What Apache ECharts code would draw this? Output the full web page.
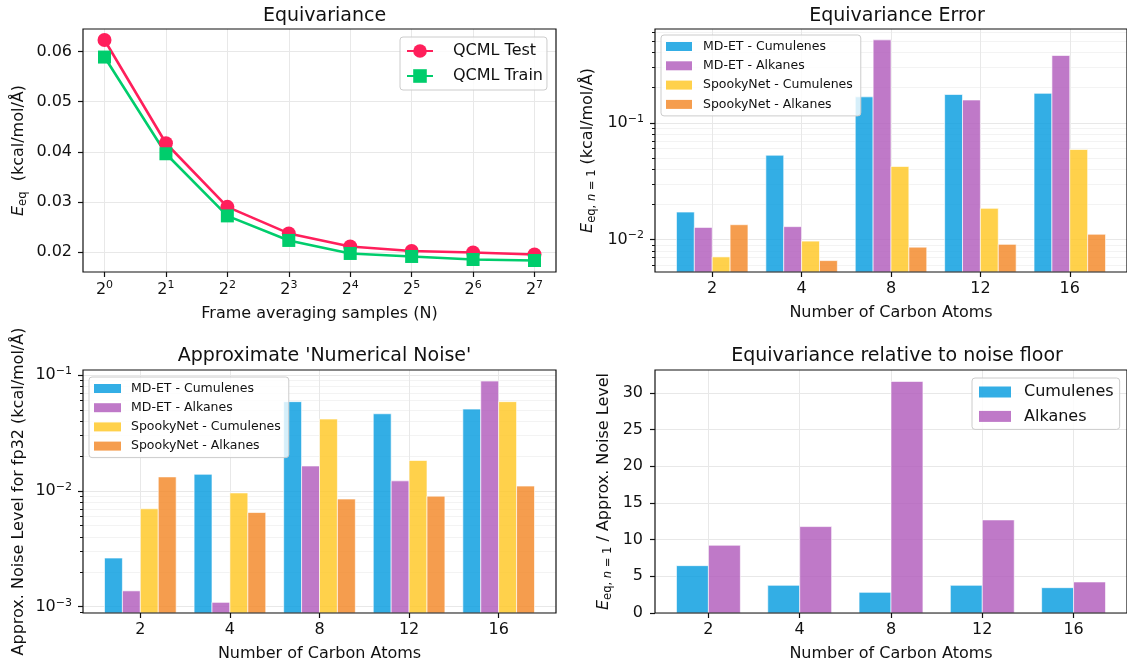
<!DOCTYPE html>
<html><head><meta charset="utf-8">
<script src="https://cdn.jsdelivr.net/npm/echarts@6/dist/echarts.min.js"></script>
<style>html,body{margin:0;padding:0;background:#fff}#c{width:1127px;height:664px}</style>
</head><body><div id="c"></div>
<script>
// ---------- data ----------
const sampleExp = [0, 1, 2, 3, 4, 5, 6, 7];            // N = 2^exp
const eqTest  = [0.0623, 0.0417, 0.0290, 0.0237, 0.0211, 0.0202, 0.0199, 0.0195];
const eqTrain = [0.0589, 0.0396, 0.0272, 0.0223, 0.0197, 0.0191, 0.0185, 0.0183];
const eqTicks = [0.02, 0.03, 0.04, 0.05, 0.06];

const carbonAtoms = ['2', '4', '8', '12', '16'];
const errMdetCum    = [0.0172, 0.0528, 0.167, 0.175, 0.179];
const errMdetAlk    = [0.0127, 0.0129, 0.514, 0.157, 0.378];
const errSpookyCum  = [0.0071, 0.0097, 0.0423, 0.0185, 0.0591];
const errSpookyAlk  = [0.0134, 0.0066, 0.0086, 0.0091, 0.0111];
const errTicks = [0.01, 0.1];

const noiseMdetCum   = [0.00263, 0.0139, 0.0589, 0.0463, 0.0508];
const noiseMdetAlk   = [0.00137, 0.00109, 0.0164, 0.0122, 0.0887];
const noiseSpookyCum = [0.0070, 0.0096, 0.0417, 0.0183, 0.0589];
const noiseSpookyAlk = [0.0132, 0.0065, 0.0085, 0.0090, 0.0110];
const noiseTicks = [0.001, 0.01, 0.1];

const ratioCum = [6.45, 3.77, 2.82, 3.77, 3.45];
const ratioAlk = [9.23, 11.77, 31.55, 12.68, 4.23];
const ratioTicks = [0, 5, 10, 15, 20, 25, 30];

// ---------- styling helpers ----------
const FONT = 'DejaVu Sans';
const TXT = '#111';
const COL = { red: '#FF1F5B', green: '#00CD6C', blue: '#009ADE', purple: '#AF58BA', yellow: '#FFC61E', orange: '#F28522' };
function rgba(hex, a) {
  const n = parseInt(hex.slice(1), 16);
  return 'rgba(' + (n >> 16) + ',' + ((n >> 8) & 255) + ',' + (n & 255) + ',' + a + ')';
}
const catIdx = carbonAtoms.map((_, i) => i);
function minorTicks(decades, lo, hi) {
  const out = [];
  decades.forEach(d => { for (let k = 2; k <= 9; k++) { const v = k * d; if (v >= lo && v <= hi) out.push(v); } });
  return out;
}
const supRich = {
  b: { fontFamily: FONT, fontSize: 16, color: TXT },
  s: { fontFamily: FONT, fontSize: 11, color: TXT, verticalAlign: 'top', padding: [0, 0, 8, 0] }
};
const nameRich = {
  i: { fontFamily: FONT, fontSize: 16, fontStyle: 'italic', color: TXT },
  t: { fontFamily: FONT, fontSize: 16, color: TXT },
  s: { fontFamily: FONT, fontSize: 11.5, color: TXT, verticalAlign: 'bottom', padding: [9, 0, 0, 0] },
  si: { fontFamily: FONT, fontSize: 11.5, fontStyle: 'italic', color: TXT, verticalAlign: 'bottom', padding: [9, 0, 0, 0] }
};
const noLine = { show: false, onZero: false };
const tickStyle = { show: true, inside: false, length: 5, lineStyle: { color: '#111', width: 1.2 } };
const gridLine = { show: true, lineStyle: { color: '#e8e8e8', width: 1 } };
const minorLine = { show: true, lineStyle: { color: '#f3f3f3', width: 1 } };
function grid(left, top, width, height) {
  return { left, top, width, height, show: true, z: 3, borderColor: '#111', borderWidth: 1.2, backgroundColor: 'transparent' };
}
function xCat(gi, min, max) {
  return {
    gridIndex: gi, type: 'value', min, max, position: 'bottom',
    axisLine: noLine, axisTick: Object.assign({ customValues: catIdx }, tickStyle),
    axisLabel: { customValues: catIdx, formatter: v => carbonAtoms[Math.round(v)], fontFamily: FONT, fontSize: 16, color: TXT, margin: 9 },
    splitLine: gridLine,
    name: 'Number of Carbon Atoms', nameLocation: 'middle', nameGap: 33,
    nameTextStyle: { fontFamily: FONT, fontSize: 16, color: TXT }
  };
}
function logLabel(v) {
  const e = Math.round(Math.log10(v));
  return '{b|10}{s|\u2212' + Math.abs(e) + '}';
}
function yLogMajor(gi, min, max, ticks, name, nameGap) {
  return {
    gridIndex: gi, type: 'log', logBase: 10, min, max, position: 'left',
    axisLine: noLine, axisTick: Object.assign({ customValues: ticks }, tickStyle),
    axisLabel: { customValues: ticks, formatter: logLabel, rich: supRich, margin: 11 },
    splitLine: gridLine,
    name, nameLocation: 'middle', nameGap,
    nameTextStyle: { fontFamily: FONT, fontSize: 16, color: TXT, rich: nameRich }
  };
}
function yLogMinor(gi, min, max, decades) {
  const m = minorTicks(decades, min, max);
  return {
    gridIndex: gi, type: 'log', logBase: 10, min, max, position: 'left', offset: 0,
    axisLine: noLine,
    axisTick: { show: true, customValues: m, length: 3, lineStyle: { color: '#111', width: 1 } },
    axisLabel: { show: false }, splitLine: minorLine
  };
}
function barSeries(name, xi, yi, values, offset, width, color) {
  const fill = rgba(color, 0.8);
  return {
    type: 'custom', name, xAxisIndex: xi, yAxisIndex: yi, clip: true,
    itemStyle: { color: fill },
    encode: { x: 0, y: 1 },
    data: values.map((v, i) => [catIdx[i], v]),
    renderItem: function (params, api) {
      const x = api.value(0), v = api.value(1);
      const p0 = api.coord([x + offset - width / 2, v]);
      const p1 = api.coord([x + offset + width / 2, v]);
      const cs = params.coordSys;
      const bottom = cs.y + cs.height;
      return {
        type: 'rect',
        shape: { x: p0[0], y: p0[1], width: p1[0] - p0[0], height: bottom - p0[1] },
        style: { fill, stroke: 'rgba(255,255,255,0.8)', lineWidth: 0.8 }
      };
    }
  };
}
function legendBox(names, colors, left, top, opts) {
  return Object.assign({
    orient: 'vertical', left, top, z: 10,
    backgroundColor: 'rgba(255,255,255,0.8)', borderColor: '#cccccc', borderWidth: 1, borderRadius: 3,
    selectedMode: false,
    data: names.map((n, i) => colors ? { name: n, icon: 'rect', itemStyle: { color: rgba(colors[i], 0.8) } } : { name: n })
  }, opts);
}
function title(text, x, top) {
  return { text, left: x, top, textAlign: 'center', textStyle: { fontFamily: FONT, fontSize: 19, fontWeight: 'normal', color: TXT } };
}

const fourNames = ['MD-ET - Cumulenes', 'MD-ET - Alkanes', 'SpookyNet - Cumulenes', 'SpookyNet - Alkanes'];
const fourCols = [COL.blue, COL.purple, COL.yellow, COL.orange];
const offs4 = [-0.3, -0.1, 0.1, 0.3];

const option = {
  backgroundColor: '#fff',
  animation: false,
  title: [
    title('Equivariance', 319.5, 2),
    title('Equivariance Error', 892, 2),
    title("Approximate 'Numerical Noise'", 319.5, 342),
    title('Equivariance relative to noise floor', 892, 342)
  ],
  grid: [grid(83, 29, 473, 243), grid(655, 29, 474, 243), grid(83, 370, 473, 243), grid(655, 370, 474, 243)],
  legend: [
    legendBox(['QCML Test', 'QCML Train'], null, 400, 37,
      { padding: [6, 4, 6, 6], itemWidth: 26, itemHeight: 17, itemGap: 9, textStyle: { fontFamily: FONT, fontSize: 16, color: TXT, padding: [0, 0, 0, 15] } }),
    legendBox(fourNames, fourCols, 661, 35,
      { padding: [5, 8, 5, 5], itemWidth: 26, itemHeight: 9, itemGap: 6.3, textStyle: { fontFamily: FONT, fontSize: 12.5, color: TXT, padding: [0, 0, 0, 6] } }),
    legendBox(fourNames, fourCols, 89, 377,
      { padding: [5, 8, 5, 5], itemWidth: 27, itemHeight: 9, itemGap: 6.2, textStyle: { fontFamily: FONT, fontSize: 12.5, color: TXT, padding: [0, 0, 0, 5] } }),
    legendBox(['Cumulenes', 'Alkanes'], [COL.blue, COL.purple], 972, 378,
      { padding: [6, 6, 5, 7], itemWidth: 32, itemHeight: 11, itemGap: 8.4, textStyle: { fontFamily: FONT, fontSize: 16, color: TXT, padding: [0, 0, 0, 8] } })
  ],
  xAxis: [
    {
      gridIndex: 0, type: 'value', min: -0.35, max: 7.35, position: 'bottom',
      axisLine: noLine, axisTick: Object.assign({ customValues: sampleExp }, tickStyle),
      axisLabel: { customValues: sampleExp, formatter: v => '{b|2}{s|' + Math.round(v) + '}', rich: supRich, margin: 8 },
      splitLine: gridLine,
      name: 'Frame averaging samples (N)', nameLocation: 'middle', nameGap: 34,
      nameTextStyle: { fontFamily: FONT, fontSize: 16, color: TXT }
    },
    xCat(1, -0.64, 4.64),
    xCat(2, -0.64, 4.64),
    xCat(3, -0.585, 4.585)
  ],
  yAxis: [
    {
      gridIndex: 0, type: 'value', min: 0.016, max: 0.0645, position: 'left',
      axisLine: noLine, axisTick: Object.assign({ customValues: eqTicks }, tickStyle),
      axisLabel: { customValues: eqTicks, formatter: v => v.toFixed(2), fontFamily: FONT, fontSize: 16, color: TXT, margin: 11 },
      splitLine: gridLine,
      name: '{i|E}{s|eq}{t|  (kcal/mol/Å)}', nameLocation: 'middle', nameGap: 54,
      nameTextStyle: { fontFamily: FONT, fontSize: 16, color: TXT, rich: nameRich }
    },
    yLogMajor(1, 0.00527, 0.637, errTicks, '{i|E}{s|eq,}{si| n}{s| = 1}{t| (kcal/mol/Å)}', 57),
    yLogMinor(1, 0.00527, 0.637, [0.001, 0.01, 0.1]),
    yLogMajor(2, 0.000882, 0.1105, noiseTicks, 'Approx. Noise Level for fp32 (kcal/mol/Å)', 56),
    yLogMinor(2, 0.000882, 0.1105, [0.0001, 0.001, 0.01, 0.1]),
    {
      gridIndex: 3, type: 'value', min: 0, max: 33.1, position: 'left',
      axisLine: noLine, axisTick: Object.assign({ customValues: ratioTicks }, tickStyle),
      axisLabel: { customValues: ratioTicks, fontFamily: FONT, fontSize: 16, color: TXT, margin: 12 },
      splitLine: gridLine,
      name: '{i|E}{s|eq,}{si| n}{s| = 1}{t| / Approx. Noise Level}', nameLocation: 'middle', nameGap: 41,
      nameTextStyle: { fontFamily: FONT, fontSize: 16, color: TXT, rich: nameRich }
    }
  ],
  series: [
    {
      type: 'line', name: 'QCML Test', xAxisIndex: 0, yAxisIndex: 0,
      data: sampleExp.map((e, i) => [e, eqTest[i]]),
      symbol: 'circle', symbolSize: 14,
      lineStyle: { color: COL.red, width: 2.6 }, itemStyle: { color: COL.red }
    },
    {
      type: 'line', name: 'QCML Train', xAxisIndex: 0, yAxisIndex: 0,
      data: sampleExp.map((e, i) => [e, eqTrain[i]]),
      symbol: 'rect', symbolSize: 13,
      lineStyle: { color: COL.green, width: 2.6 }, itemStyle: { color: COL.green }
    },
    barSeries(fourNames[0], 1, 1, errMdetCum, offs4[0], 0.2, fourCols[0]),
    barSeries(fourNames[1], 1, 1, errMdetAlk, offs4[1], 0.2, fourCols[1]),
    barSeries(fourNames[2], 1, 1, errSpookyCum, offs4[2], 0.2, fourCols[2]),
    barSeries(fourNames[3], 1, 1, errSpookyAlk, offs4[3], 0.2, fourCols[3]),
    barSeries(fourNames[0], 2, 3, noiseMdetCum, offs4[0], 0.2, fourCols[0]),
    barSeries(fourNames[1], 2, 3, noiseMdetAlk, offs4[1], 0.2, fourCols[1]),
    barSeries(fourNames[2], 2, 3, noiseSpookyCum, offs4[2], 0.2, fourCols[2]),
    barSeries(fourNames[3], 2, 3, noiseSpookyAlk, offs4[3], 0.2, fourCols[3]),
    barSeries('Cumulenes', 3, 5, ratioCum, -0.175, 0.35, COL.blue),
    barSeries('Alkanes', 3, 5, ratioAlk, 0.175, 0.35, COL.purple)
  ]
};
const chart = echarts.init(document.getElementById('c'), null, { renderer: 'canvas' });
chart.setOption(option);
</script>
</body></html>
